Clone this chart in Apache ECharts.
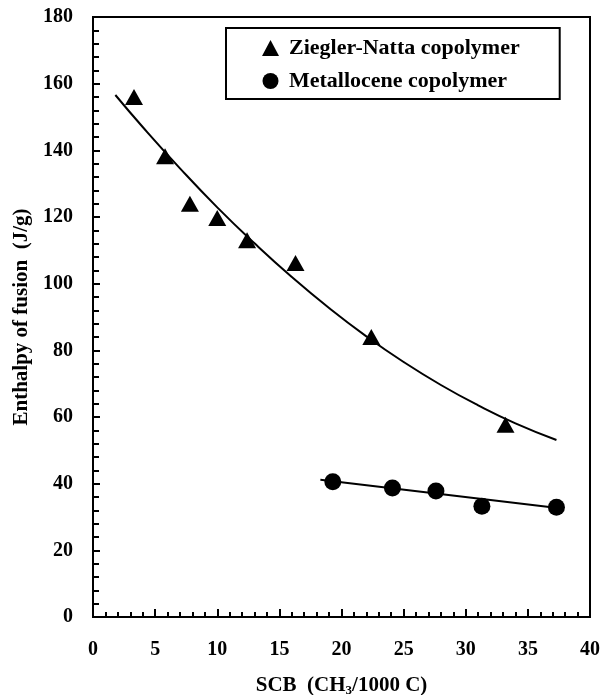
<!DOCTYPE html>
<html><head><meta charset="utf-8">
<script src="https://cdn.jsdelivr.net/npm/echarts@6/dist/echarts.min.js"></script>
<style>html,body{margin:0;padding:0;background:#fff}#c{width:602px;height:695px}</style>
</head><body><div id="c"></div>
<script>
// Data
var znPoints = [[3.3,156],[5.8,138.2],[7.8,124],[10,119.7],[12.4,113],[16.3,106.2],[22.4,84],[33.2,57.7]];
var mPoints = [[19.3,40.6],[24.1,38.7],[27.6,37.8],[31.3,33.2],[37.3,32.9]];
var znFit = [[1.8,156.6],[4,147.0],[7,134.6],[10,122.9],[13,112.1],[16,102.0],[19,92.7],[22,84.2],[25,76.5],[28,69.6],[31,63.5],[34,58.1],[37.3,53.1]];
var mFit = [[18.3,41.2],[37.4,32.7]];
var seriesNames = ['Ziegler-Natta copolymer','Metallocene copolymer'];
var xName = '{a|SCB  (CH}{s|3}{a|/1000 C)}';
var yName = 'Enthalpy of fusion  (J/g)';

var font = '"Liberation Serif","Times New Roman",serif';
var chart = echarts.init(document.getElementById('c'));
chart.setOption({
  animation:false,
  backgroundColor:'#fff',
  grid:{left:93,right:12,top:17,bottom:78,show:true,borderColor:'#000',borderWidth:2,backgroundColor:'transparent',containLabel:false,outerBoundsMode:'none'},
  legend:{
    data:seriesNames, orient:'vertical', left:226, top:28,
    padding:[9,40,7,36], itemGap:11, itemWidth:17, itemHeight:16,
    borderColor:'#000', borderWidth:2, backgroundColor:'#fff',
    itemStyle:{opacity:1},
    textStyle:{fontFamily:font,fontWeight:'bold',fontSize:22,color:'#000',padding:[0,0,0,5]}
  },
  xAxis:{
    type:'value', min:0, max:40, interval:5,
    name:xName, nameLocation:'middle', nameGap:58,
    nameTextStyle:{
      fontFamily:font,fontWeight:'bold',fontSize:21,color:'#000',
      rich:{
        a:{fontFamily:font,fontWeight:'bold',fontSize:21,color:'#000'},
        s:{fontFamily:font,fontWeight:'bold',fontSize:13,color:'#000',padding:[9,0,0,0]}
      }
    },
    axisLine:{lineStyle:{color:'#000',width:2}},
    axisTick:{inside:true,length:8,lineStyle:{color:'#000',width:2}},
    minorTick:{show:true,splitNumber:5,length:5,lineStyle:{color:'#000',width:2}},
    splitLine:{show:false},
    axisLabel:{margin:23,fontFamily:font,fontWeight:'bold',fontSize:20,color:'#000'}
  },
  yAxis:{
    type:'value', min:0, max:180, interval:20,
    name:yName, nameLocation:'middle', nameGap:53,
    nameTextStyle:{fontFamily:font,fontWeight:'bold',fontSize:21,color:'#000'},
    axisLine:{lineStyle:{color:'#000',width:2}},
    axisTick:{inside:true,length:7,lineStyle:{color:'#000',width:2}},
    minorTick:{show:true,splitNumber:5,length:6,lineStyle:{color:'#000',width:2}},
    splitLine:{show:false},
    axisLabel:{margin:20,fontFamily:font,fontWeight:'bold',fontSize:20,color:'#000'}
  },
  series:[
    {name:'znFit',type:'line',data:znFit,smooth:true,showSymbol:false,symbol:'none',lineStyle:{color:'#000',width:2},silent:true,z:1},
    {name:'mFit',type:'line',data:mFit,showSymbol:false,symbol:'none',lineStyle:{color:'#000',width:2},silent:true,z:1},
    {name:seriesNames[0],type:'scatter',data:znPoints,symbol:'triangle',symbolSize:[18,16],itemStyle:{color:'#000',opacity:1},z:3},
    {name:seriesNames[1],type:'scatter',data:mPoints,symbol:'circle',symbolSize:17,itemStyle:{color:'#000',opacity:1},z:3}
  ]
});
</script></body></html>
